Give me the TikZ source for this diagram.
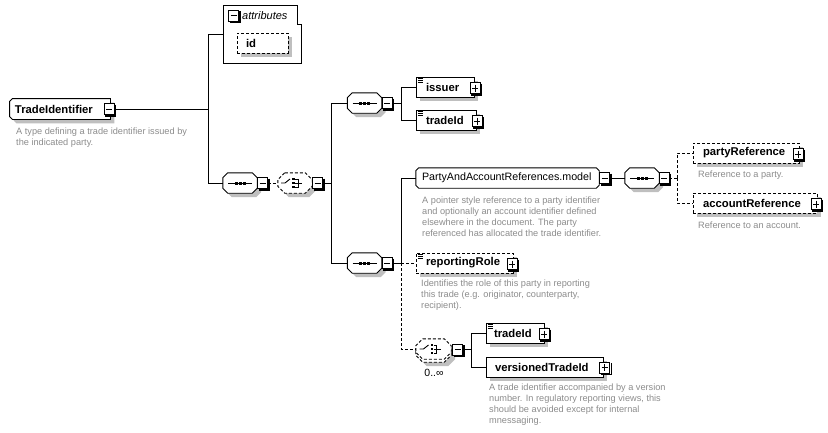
\documentclass[tikz,border=0pt]{standalone}
\usepackage{fontspec}
\setmainfont{Liberation Sans}
\usetikzlibrary{backgrounds}
% octagon outline round a named node: #1 node, #2 left chamfer, #3 right chamfer, #4 dx, #5 dy
\newcommand\octpath[5]{([xshift=#4+#2, yshift=#5]#1.north west) -- ([xshift=#4-#3, yshift=#5]#1.north east) -- ([xshift=#4, yshift=#5-#3]#1.north east) -- ([xshift=#4, yshift=#5+#3]#1.south east) -- ([xshift=#4-#3, yshift=#5]#1.south east) -- ([xshift=#4+#2, yshift=#5]#1.south west) -- ([xshift=#4, yshift=#5+#2]#1.south west) -- ([xshift=#4, yshift=#5-#2]#1.north west) -- cycle}
\newcommand\octshape[4][]{% #1 extra options, #2 node, #3 left chamfer, #4 right chamfer
  \begin{pgfonlayer}{background}
    \fill[black!25] \octpath{#2}{#3}{#4}{4pt}{-4pt};
    \draw[fill=white,line width=0.9pt,#1] \octpath{#2}{#3}{#4}{0pt}{0pt};
  \end{pgfonlayer}}
\newcommand\boxshadow[1]{%
  \begin{pgfonlayer}{background}
    \fill[black!25] ([xshift=4pt,yshift=-4pt]#1.north west) rectangle ([xshift=4pt,yshift=-4pt]#1.south east);
  \end{pgfonlayer}}
\newcommand\seqicon[1]{%
  \draw[line width=0.9pt] ([xshift=-12pt]#1.center) -- ([xshift=12pt]#1.center);
  \foreach \dx in {-4,0,4} \fill ([xshift=\dx pt-1.5pt,yshift=1.5pt]#1.center) rectangle ([xshift=\dx pt+1.5pt,yshift=-1.5pt]#1.center);}
\newcommand\choiceicon[1]{%
  \draw[line width=0.9pt] ([xshift=-14pt]#1.center) -- ([xshift=-10pt]#1.center) -- ([xshift=-5pt,yshift=4pt]#1.center);
  \foreach \dy in {-4,0,4} \fill ([xshift=-3pt,yshift=\dy pt-1.3pt]#1.center) rectangle ([xshift=-0.4pt,yshift=\dy pt+1.3pt]#1.center);
  \draw[line width=0.9pt] ([yshift=4pt]#1.center) -- ([xshift=3pt,yshift=4pt]#1.center) -- ([xshift=3pt,yshift=-4pt]#1.center) -- ([yshift=-4pt]#1.center)
     (#1.center) -- ([xshift=7pt]#1.center);}
\newcommand\elicon[1]{%
  \foreach \d in {2,4,6} \draw[line width=0.7pt] ([xshift=2pt,yshift=-\d pt]#1.north west) -- ([xshift=7pt,yshift=-\d pt]#1.north west);}
\newcommand\signbox[3]{% #1 style, #2 name, #3 position
  \node[#1] (#2) at #3 {};
  \draw[line width=1.3pt] ([xshift=1pt,yshift=-1.5pt]#2.north east) -- ([xshift=1pt,yshift=-1pt]#2.south east) -- ([xshift=1.5pt,yshift=-1pt]#2.south west);}
\begin{document}
\begin{tikzpicture}[x=1pt,y=-1pt,line width=0.9pt]
\tikzset{
  dsh/.style={dash pattern=on 3pt off 2pt},
  bx/.style={draw, fill=white, rectangle, minimum height=20pt, inner ysep=0pt, align=left, font=\fontsize{11.3}{13}\selectfont\bfseries},
  octnode/.style={draw=none, fill=none, rectangle, minimum height=20pt, inner ysep=0pt, align=left, font=\fontsize{11.3}{13}\selectfont\bfseries},
  seqnode/.style={draw=none, fill=none, rectangle, minimum width=34pt, minimum height=20pt, inner sep=0pt},
  mbox/.style={draw, fill=white, minimum width=10pt, minimum height=11pt, inner sep=0pt, line width=0.9pt,
    path picture={\draw[line width=1pt] ([xshift=2pt]path picture bounding box.west) -- ([xshift=-2pt]path picture bounding box.east);}},
  pbox/.style={draw, fill=white, minimum width=10pt, minimum height=11pt, inner sep=0pt, line width=0.9pt,
    path picture={\draw[line width=1pt] ([xshift=2pt]path picture bounding box.west) -- ([xshift=-2pt]path picture bounding box.east) ([yshift=-2pt]path picture bounding box.north) -- ([yshift=2pt]path picture bounding box.south);}},
  desc/.style={anchor=north west, inner sep=0pt, align=left, text=black!45, font=\fontsize{9.2}{11}\selectfont},
}
\useasboundingbox (0,0) rectangle (828,432);

% root
\node[octnode, text width=90pt, inner xsep=5pt] (ti) at (60,109) {TradeIdentifier};
\octshape{ti}{3pt}{0pt}
\signbox{mbox}{timinus}{(109,109)}
\node[desc] (tidesc) at (16,128) {A type defining a trade identifier issued by\\the indicated party.};

% attributes
\node[minimum width=77.5pt, minimum height=58pt, inner sep=0pt] (attr) at (261.75,34) {};
\draw (attr.north west) -- ([xshift=-4pt]attr.north east) -- ([xshift=-4pt,yshift=-19pt]attr.north east) -- ([yshift=-19pt]attr.north east) -- (attr.south east) -- (attr.south west) -- cycle;
\signbox{mbox}{attrminus}{(233.5,15.5)}
\node[anchor=west, inner sep=0pt, font=\fontsize{11}{13}\selectfont\itshape] (attrlbl) at (242,15.5) {attributes};
\node[bx, dsh, text width=33pt, inner xsep=9pt] (idbox) at (262.5,43) {id};
\boxshadow{idbox}

% top-level sequence and choice
\coordinate (j1) at (208,109);
\node[seqnode] (seq1) at (240,183) {};
\octshape{seq1}{5pt}{5pt}
\seqicon{seq1}
\signbox{mbox}{seq1minus}{(262.5,183)}
\node[seqnode] (ch1) at (295,183) {};
\octshape[dsh]{ch1}{7pt}{7pt}
\choiceicon{ch1}
\signbox{mbox}{ch1minus}{(317.5,183)}
\coordinate (j2) at (331,183);

% upper branch
\node[seqnode] (seq2) at (364.5,103) {};
\octshape{seq2}{5pt}{5pt}
\seqicon{seq2}
\signbox{mbox}{seq2minus}{(387,103)}
\coordinate (j3) at (401,103);
\node[bx, text width=38pt, inner xsep=10pt] (issuer) at (445,87) {issuer};
\boxshadow{issuer}
\elicon{issuer}
\signbox{pbox}{issuerplus}{([xshift=1pt,yshift=-1pt]issuer.east)}
\node[bx, text width=40pt, inner xsep=10pt] (tradeid1) at (446,120) {tradeId};
\boxshadow{tradeid1}
\elicon{tradeid1}
\signbox{pbox}{tradeid1plus}{([xshift=1pt,yshift=-1pt]tradeid1.east)}

% lower branch
\node[seqnode] (seq3) at (364.5,263) {};
\octshape{seq3}{5pt}{5pt}
\seqicon{seq3}
\signbox{mbox}{seq3minus}{(387,263)}
\coordinate (j4) at (401,263);

\node[octnode, font=\fontsize{10.7}{13}\selectfont, text width=171pt, inner xsep=6pt] (par) at (507.5,178) {PartyAndAccountReferences.model};
\begin{pgfonlayer}{background}
  \draw[fill=white,line width=0.9pt] \octpath{par}{3pt}{3pt}{0pt}{0pt};
\end{pgfonlayer}
\signbox{mbox}{parminus}{(604.5,178)}
\node[desc] (pardesc) at (422,197) {A pointer style reference to a party identifier\\and optionally an account identifier defined\\elsewhere in the document. The party\\referenced has allocated the trade identifier.};

\node[seqnode] (seq4) at (642,178) {};
\octshape{seq4}{5pt}{5pt}
\seqicon{seq4}
\signbox{mbox}{seq4minus}{(664,178)}
\coordinate (j5) at (677,178);
\node[bx, dsh, text width=86pt, inner xsep=10pt] (partyref) at (746,153) {partyReference};
\boxshadow{partyref}
\signbox{pbox}{partyrefplus}{([xshift=-1pt,yshift=-1pt]partyref.east)}
\node[desc] (partyrefdesc) at (698,171) {Reference to a party.};
\node[bx, dsh, text width=104pt, inner xsep=10pt] (accountref) at (755,203) {accountReference};
\boxshadow{accountref}
\signbox{pbox}{accountrefplus}{([xshift=-1pt,yshift=-1pt]accountref.east)}
\node[desc] (accountrefdesc) at (698,222) {Reference to an account.};

\node[bx, dsh, text width=77pt, inner xsep=10pt] (rr) at (464.5,263) {reportingRole};
\boxshadow{rr}
\elicon{rr}
\signbox{pbox}{rrplus}{([xshift=-1pt,yshift=-1pt]rr.east)}
\node[desc] (rrdesc) at (421,280) {Identifies the role of this party in reporting\\this trade (e.g. originator, counterparty,\\recipient).};

\node[seqnode, minimum width=35pt] (ch2) at (433.5,349) {};
\begin{pgfonlayer}{background}
  \fill[black!25] \octpath{ch2}{7pt}{7pt}{4pt}{-7pt};
  \draw[fill=white,dsh,line width=0.9pt] \octpath{ch2}{7pt}{7pt}{0pt}{-3pt};
  \draw[fill=white,dsh,line width=0.9pt] \octpath{ch2}{7pt}{7pt}{0pt}{0pt};
\end{pgfonlayer}
\choiceicon{ch2}
\signbox{mbox}{ch2minus}{(457.5,349.5)}
\node[inner sep=0pt, font=\fontsize{10.5}{12}\selectfont] (mult) at (434,373) {0..∞};
\coordinate (j6) at (471,349.5);
\node[bx, text width=42pt, inner xsep=8pt] (tradeid2) at (515,333) {tradeId};
\boxshadow{tradeid2}
\elicon{tradeid2}
\signbox{pbox}{tradeid2plus}{([xshift=0pt,yshift=-1pt]tradeid2.east)}
\node[bx, text width=99pt, inner xsep=9pt] (vers) at (544.5,367) {versionedTradeId};
\boxshadow{vers}
\signbox{pbox}{versplus}{([xshift=1.5pt,yshift=-0.5pt]vers.east)}
\node[desc] (versdesc) at (489,384) {A trade identifier accompanied by a version\\number. In regulatory reporting views, this\\should be avoided except for internal\\mnessaging.};

% connectors
\draw (timinus.east) -- (j1);
\draw (j1) |- (attr.west);
\draw (j1) |- (seq1.west);
\draw[dsh] (seq1minus.east) -- (ch1.west);
\draw (ch1minus.east) -- (j2);
\draw (j2) |- (seq2.west);
\draw (j2) |- (seq3.west);
\draw (seq2minus.east) -- (j3);
\draw (j3) |- (issuer.west);
\draw (j3) |- (tradeid1.west);
\draw (seq3minus.east) -- (j4);
\draw (j4) |- (par.west);
\draw[dsh] (j4) -- (rr.west);
\draw[dsh] (j4) |- (ch2.west);
\draw (parminus.east) -- (seq4.west);
\draw[dsh] (seq4minus.east) -- (j5);
\draw[dsh] (j5) |- (partyref.west);
\draw[dsh] (j5) |- (accountref.west);
\draw (ch2minus.east) -- (j6);
\draw (j6) |- (tradeid2.west);
\draw (j6) |- (vers.west);
\end{tikzpicture}
\end{document}
